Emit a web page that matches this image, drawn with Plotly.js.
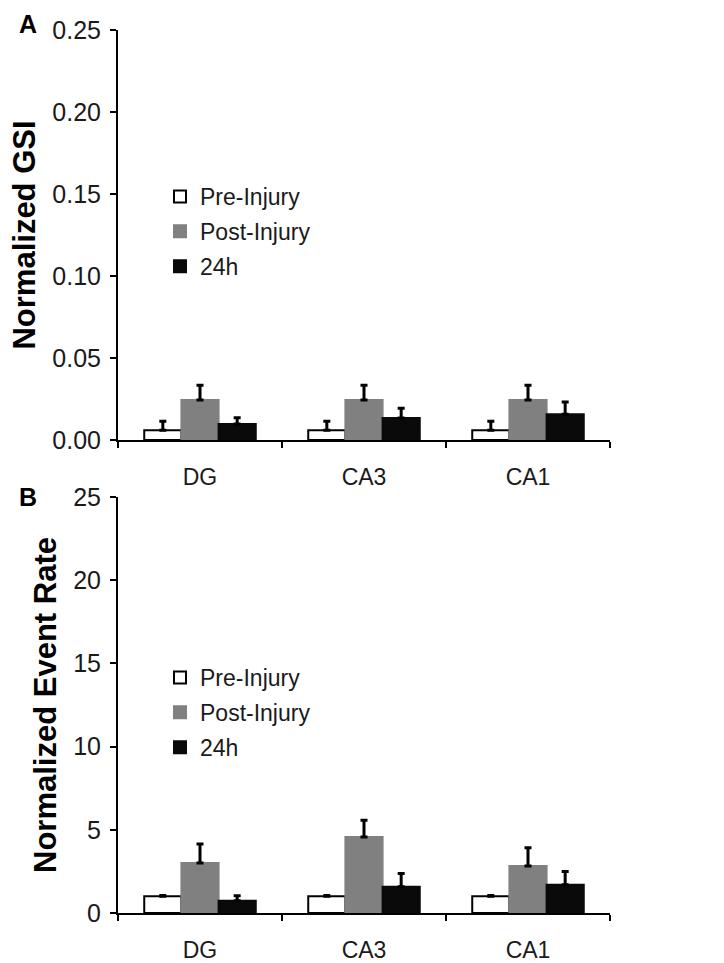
<!DOCTYPE html>
<html><head><meta charset="utf-8">
<script src="https://cdn.plot.ly/plotly-3.0.1.min.js"></script>
<style>html,body{margin:0;padding:0;background:#fff}#chart{width:724px;height:963px}</style>
</head><body><div id="chart"></div>
<script>
const regions = ["DG", "CA3", "CA1"];
const seriesNames = ["Pre-Injury", "Post-Injury", "24h"];

const gsiPre = [0.006, 0.006, 0.006];
const gsiPreErr = [0.0055, 0.0055, 0.0055];
const gsiPost = [0.0244, 0.0244, 0.0244];
const gsiPostErr = [0.009, 0.009, 0.009];
const gsi24h = [0.0098, 0.0134, 0.0157];
const gsi24hErr = [0.0037, 0.006, 0.0075];

const ratePre = [1.0, 1.0, 1.0];
const ratePreErr = [0.05, 0.05, 0.05];
const ratePost = [3.0, 4.57, 2.82];
const ratePostErr = [1.15, 1.0, 1.1];
const rate24h = [0.73, 1.58, 1.7];
const rate24hErr = [0.3, 0.8, 0.8];

const FONT = "Liberation Sans, Arial, sans-serif";
const fills = ["#ffffff", "#808080", "#0a0a0a"];
const outlines = ["#000000", "#808080", "#0a0a0a"];

function mk(vals, errs, i, xa, ya, leg) {
  return {
    type: "bar", x: regions, y: vals, name: seriesNames[i],
    xaxis: xa, yaxis: ya, legend: leg, legendgroup: leg + i,
    marker: {color: fills[i], line: {color: outlines[i], width: 2}},
    error_y: {type: "data", array: errs, arrayminus: errs.map(() => 0), symmetric: false,
              color: "#000", thickness: 3, width: 3.5}
  };
}
const data = [
  mk(gsiPre, gsiPreErr, 0, "x", "y", "legend"),
  mk(gsiPost, gsiPostErr, 1, "x", "y", "legend"),
  mk(gsi24h, gsi24hErr, 2, "x", "y", "legend"),
  mk(ratePre, ratePreErr, 0, "x2", "y2", "legend2"),
  mk(ratePost, ratePostErr, 1, "x2", "y2", "legend2"),
  mk(rate24h, rate24hErr, 2, "x2", "y2", "legend2")
];

const W = 724, H = 963;
const xd = [118 / W, 610 / W];
const yA = [1 - 440 / H, 1 - 30 / H];
const yB = [1 - 913 / H, 1 - 497 / H];

function xaxis(anchor) {
  return {domain: xd, anchor: anchor, type: "category", showline: true, linecolor: "#000", linewidth: 2,
    ticks: "outside", tickson: "boundaries", ticklen: 6, tickwidth: 2, tickcolor: "#000", ticklabelstandoff: 15,
    tickfont: {family: FONT, size: 23, color: "#1a1a1a"}, showgrid: false, zeroline: false, automargin: false};
}
function yaxis(anchor, dom, range, dtick, fmt, title) {
  return {domain: dom, anchor: anchor, range: range, dtick: dtick, tick0: 0, tickformat: fmt,
    showline: true, linecolor: "#000", linewidth: 2, ticks: "outside", ticklen: 6, tickwidth: 2, tickcolor: "#000",
    ticklabelstandoff: 4,
    tickfont: {family: FONT, size: 25, color: "#1a1a1a"}, showgrid: false, zeroline: false, automargin: false,
    title: {text: title, font: {family: FONT, size: 31, color: "#000", weight: "bold"}, standoff: 7}};
}
function legend(top) {
  return {x: 160 / W, y: 1 - top / H, xanchor: "left", yanchor: "top", bgcolor: "rgba(0,0,0,0)",
    font: {family: FONT, size: 23, color: "#1a1a1a"}, traceorder: "grouped", tracegroupgap: 2, itemwidth: 30};
}

const layout = {
  width: W, height: H, margin: {l: 0, r: 0, t: 0, b: 0},
  paper_bgcolor: "#fff", plot_bgcolor: "#fff",
  barmode: "group", bargap: 0.32, bargroupgap: 0,
  xaxis: xaxis("y"), yaxis: yaxis("x", yA, [0, 0.25], 0.05, ".2f", "Normalized GSI"),
  xaxis2: xaxis("y2"), yaxis2: yaxis("x2", yB, [0, 25], 5, "d", "Normalized Event Rate"),
  legend: legend(175), legend2: legend(656),
  showlegend: true,
  annotations: [
    {text: "<b>A</b>", x: 17 / W, y: 1 - 24 / H, xref: "paper", yref: "paper", xanchor: "left", yanchor: "middle",
     showarrow: false, font: {family: FONT, size: 25, color: "#000"}},
    {text: "<b>B</b>", x: 17 / W, y: 1 - 497 / H, xref: "paper", yref: "paper", xanchor: "left", yanchor: "middle",
     showarrow: false, font: {family: FONT, size: 25, color: "#000"}}
  ]
};
Plotly.newPlot("chart", data, layout, {displayModeBar: false, staticPlot: true});
</script></body></html>
